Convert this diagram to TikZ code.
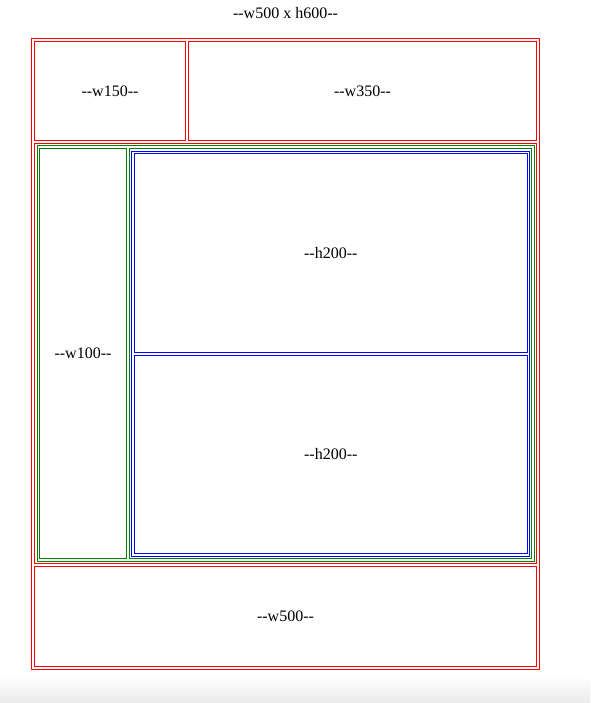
\documentclass[tikz,border=0pt]{standalone}
\usepackage{fontspec}
\setmainfont{Liberation Serif}
\definecolor{htmlgreen}{RGB}{0,128,0}
\newcommand\dd{-\kern0pt-}
\newcommand\pxcell[7]{%
  \pgfmathsetmacro\pxcw{#5-#3}\pgfmathsetmacro\pxch{#6-#4}%
  \node[#2, minimum width=\pxcw pt, minimum height=\pxch pt] (#1) at ({(#3+#5)/2},{(#4+#6)/2}) {#7};}
\begin{document}
\begin{tikzpicture}[x=1pt,y=-1pt,
  cellbox/.style={draw, line width=1pt, inner sep=0pt, outer sep=0pt, font=\fontsize{16}{19}\selectfont},
  redbox/.style={cellbox, draw=red},
  greenbox/.style={cellbox, draw=htmlgreen},
  bluebox/.style={cellbox, draw=blue},
  titletext/.style={inner sep=0pt, font=\fontsize{16}{19}\selectfont}]
\useasboundingbox (0,0) rectangle (590,703);
\shade[top color=white, bottom color=black!8] (0,676) rectangle (590,703);
\node[titletext] (title) at (285.5,13) {\dd w500 x h600\dd};
\pxcell{outer}{redbox}{31.5}{38.5}{539.5}{669.5}{}
\pxcell{wA}{redbox}{34.5}{41.5}{185.5}{140.5}{\dd w150\dd}
\pxcell{wB}{redbox}{188.5}{41.5}{536.5}{140.5}{\dd w350\dd}
\pxcell{midcell}{redbox}{34.5}{143.5}{536.5}{563.5}{}
\pxcell{gtable}{greenbox}{37}{146}{534}{561}{}
\pxcell{gleft}{greenbox}{39.5}{148.5}{126.5}{558.5}{\dd w100\dd}
\pxcell{gright}{greenbox}{129}{148.5}{531.5}{558.5}{}
\pxcell{btable}{bluebox}{131.5}{151.5}{529.5}{556}{}
\pxcell{bA}{bluebox}{134.5}{154}{527}{352.5}{\dd h200\dd}
\pxcell{bB}{bluebox}{134.5}{355.5}{527}{553.5}{\dd h200\dd}
\pxcell{bottom}{redbox}{34.5}{566.5}{536.5}{666.5}{\dd w500\dd}
\end{tikzpicture}
\end{document}
